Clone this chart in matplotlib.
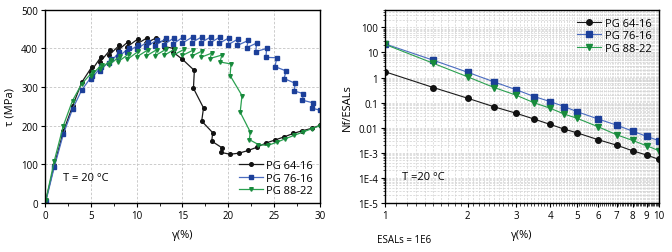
import matplotlib
matplotlib.use('Agg')
import matplotlib.pyplot as plt
from matplotlib.ticker import MultipleLocator, FixedLocator, NullFormatter
import numpy as np

plt.rcParams['font.family'] = ['Open Sans', 'DejaVu Sans']
plt.rcParams['font.size'] = 7
plt.rcParams['axes.linewidth'] = 1.0

# ---- left panel: stress vs strain (stepped test) ----
x_6416 = [0.1, 1.0, 2.0, 3.0, 4.0, 5.1, 5.0, 6.1, 6.0, 7.1, 7.0, 8.1, 8.0, 9.1, 9.0,
          10.1, 10.0, 11.1, 11.0, 12.1, 12.0, 13.1, 13.0, 14.1, 14.0, 15.0, 16.3, 16.2,
          17.3, 17.1, 18.3, 18.2, 19.3, 19.2, 20.2, 21.2, 22.2, 23.1, 24.1, 25.1, 26.1,
          27.1, 28.1, 29.1, 30.0]
y_6416 = [8, 97, 185, 250, 312, 352, 340, 378, 365, 396, 383, 408, 396, 418, 405,
          424, 411, 427, 414, 427, 413, 421, 405, 400, 390, 372, 343, 297,
          246, 212, 182, 160, 143, 131, 126, 129, 136, 144, 155, 163, 171,
          180, 187, 193, 201]

x_7616 = [0.1, 1.0, 2.0, 3.0, 4.0, 5.1, 5.0, 6.1, 6.0, 7.2, 7.0, 8.1, 8.0, 9.2, 9.0,
          10.2, 10.0, 11.2, 11.0, 12.2, 12.0, 13.2, 13.0, 14.1, 14.0, 15.1, 15.0,
          16.1, 16.0, 17.1, 17.0, 18.1, 18.0, 19.1, 19.0, 20.1, 20.0, 21.1, 21.0,
          22.2, 22.0, 23.1, 23.0, 24.2, 24.1, 25.3, 25.1, 26.3, 26.1, 27.3, 27.2,
          28.2, 28.1, 29.3, 29.1, 30.0]
y_7616 = [5, 92, 178, 243, 292, 328, 320, 352, 342, 372, 362, 390, 378, 402, 390,
          410, 398, 418, 403, 422, 407, 426, 410, 428, 412, 430, 414,
          430, 415, 430, 415, 430, 414, 430, 413, 428, 410, 425, 408,
          421, 402, 414, 392, 400, 377, 376, 353, 342, 322, 310, 290,
          283, 266, 259, 246, 240]

x_8822 = [0.1, 1.0, 2.0, 3.0, 4.0, 5.2, 5.0, 6.2, 6.0, 7.2, 7.0, 8.2, 8.0, 9.2, 9.0,
          10.2, 10.0, 11.2, 11.0, 12.2, 12.0, 13.2, 13.0, 14.2, 14.0, 15.2, 15.0,
          16.2, 16.0, 17.1, 17.0, 18.2, 18.0, 19.3, 19.1, 20.3, 20.2, 21.5, 21.3,
          22.4, 22.3, 23.3, 24.3, 25.3, 26.2, 27.2, 28.2, 29.1, 30.0]
y_8822 = [8, 108, 200, 265, 308, 340, 330, 358, 346, 370, 358, 380, 366, 387, 372,
          393, 378, 396, 380, 397, 381, 398, 382, 399, 383, 398, 382,
          396, 380, 393, 377, 388, 374, 383, 365, 360, 330, 278, 235,
          184, 164, 151, 149, 157, 166, 175, 184, 192, 200]

# ---- right panel: fatigue life ----
strain = [1, 1.5, 2, 2.5, 3, 3.5, 4, 4.5, 5, 6, 7, 8, 9, 10]
nf_6416 = [1.7, 0.40, 0.15, 0.068, 0.038, 0.022, 0.0135, 0.0088, 0.0063, 0.0033,
           0.0020, 0.0012, 8.1e-4, 5.4e-4]
nf_7616 = [22, 4.9, 1.63, 0.67, 0.33, 0.175, 0.11, 0.07, 0.044, 0.022,
           0.0126, 0.0073, 0.0045, 0.0030]
nf_8822 = [21, 3.7, 1.07, 0.40, 0.20, 0.098, 0.06, 0.035, 0.024, 0.0108,
           0.0052, 0.0031, 0.0019, 0.0012]

labels = ['PG 64-16', 'PG 76-16', 'PG 88-22']
line_cols = ['#1a1a1a', '#4a6cc0', '#2aa050']
mark_cols = ['#111111', '#1c3f99', '#188a3c']
markers = ['o', 's', 'v']

fig = plt.figure(figsize=(6.72, 2.53), dpi=100)
ax1 = fig.add_axes([0.067, 0.194, 0.409, 0.763])
ax2 = fig.add_axes([0.573, 0.194, 0.408, 0.763])

left_data = [(x_6416, y_6416), (x_7616, y_7616), (x_8822, y_8822)]
for (xs, ys), lab, lc, mc, m in zip(left_data, labels, line_cols, mark_cols, markers):
    ax1.plot(xs, ys, color=lc, lw=0.9, marker=m, ms=2.6, mfc=mc, mec=mc, label=lab)

ax1.set_xlim(0, 30)
ax1.set_ylim(0, 500)
ax1.xaxis.set_major_locator(MultipleLocator(5))
ax1.xaxis.set_minor_locator(MultipleLocator(2.5))
ax1.yaxis.set_major_locator(MultipleLocator(100))
ax1.grid(True, which='major', color='#c4c4c4', ls=(0, (3, 2)), lw=0.6)
ax1.set_axisbelow(True)
ax1.tick_params(which='major', length=3, width=0.8, pad=2)
ax1.tick_params(which='minor', length=2, width=0.6)
ax1.set_xlabel('γ(%)', fontsize=8, labelpad=6)
ax1.set_ylabel('τ (MPa)', fontsize=8, labelpad=4)
ax1.text(2.0, 60, 'T = 20 °C', fontsize=8)
ax1.legend(loc='lower right', frameon=False, fontsize=8, handlelength=2.2,
           handletextpad=0.3, labelspacing=0.15, borderaxespad=0.2)

right_data = [nf_6416, nf_7616, nf_8822]
for ys, lab, lc, mc, m in zip(right_data, labels, line_cols, mark_cols, markers):
    ax2.plot(strain, ys, color=lc, lw=0.8, marker=m, ms=4.0, mfc=mc, mec=mc, label=lab)

ax2.set_xscale('log')
ax2.set_yscale('log')
ax2.set_xlim(1, 10)
ax2.set_ylim(1e-5, 500)
ax2.xaxis.set_major_locator(FixedLocator(range(1, 11)))
ax2.xaxis.set_major_formatter(plt.FixedFormatter([str(i) for i in range(1, 11)]))
ax2.xaxis.set_minor_locator(FixedLocator(np.arange(1.1, 10, 0.1)))
ax2.xaxis.set_minor_formatter(NullFormatter())
ax2.yaxis.set_major_locator(FixedLocator([1e-5, 1e-4, 1e-3, 1e-2, 1e-1, 1, 10, 100]))
ax2.yaxis.set_major_formatter(plt.FixedFormatter(['1E-5', '1E-4', '1E-3', '0.01', '0.1',
                                                  '1', '10', '100']))
ax2.yaxis.set_minor_locator(FixedLocator([m * 10.0 ** e for e in range(-5, 3)
                                          for m in range(2, 10)]))
ax2.yaxis.set_minor_formatter(NullFormatter())
ax2.grid(True, which='both', color='#d0d0d0', ls=(0, (3, 2)), lw=0.5)
ax2.set_axisbelow(True)
ax2.tick_params(which='major', length=3, width=0.8, pad=2)
ax2.tick_params(which='minor', length=1.8, width=0.5)
ax2.set_xlabel('γ(%)', fontsize=8, labelpad=6)
ax2.set_ylabel('Nf/ESALs', fontsize=8, labelpad=4)
ax2.text(1.15, 9e-5, 'T =20 °C', fontsize=8)
fig.text(0.561, 0.04, 'ESALs = 1E6', fontsize=7)
ax2.legend(loc='upper right', frameon=False, fontsize=8, handlelength=2.2,
           handletextpad=0.3, labelspacing=0.15, borderaxespad=0.3)

fig.savefig('out.png', dpi=100)
